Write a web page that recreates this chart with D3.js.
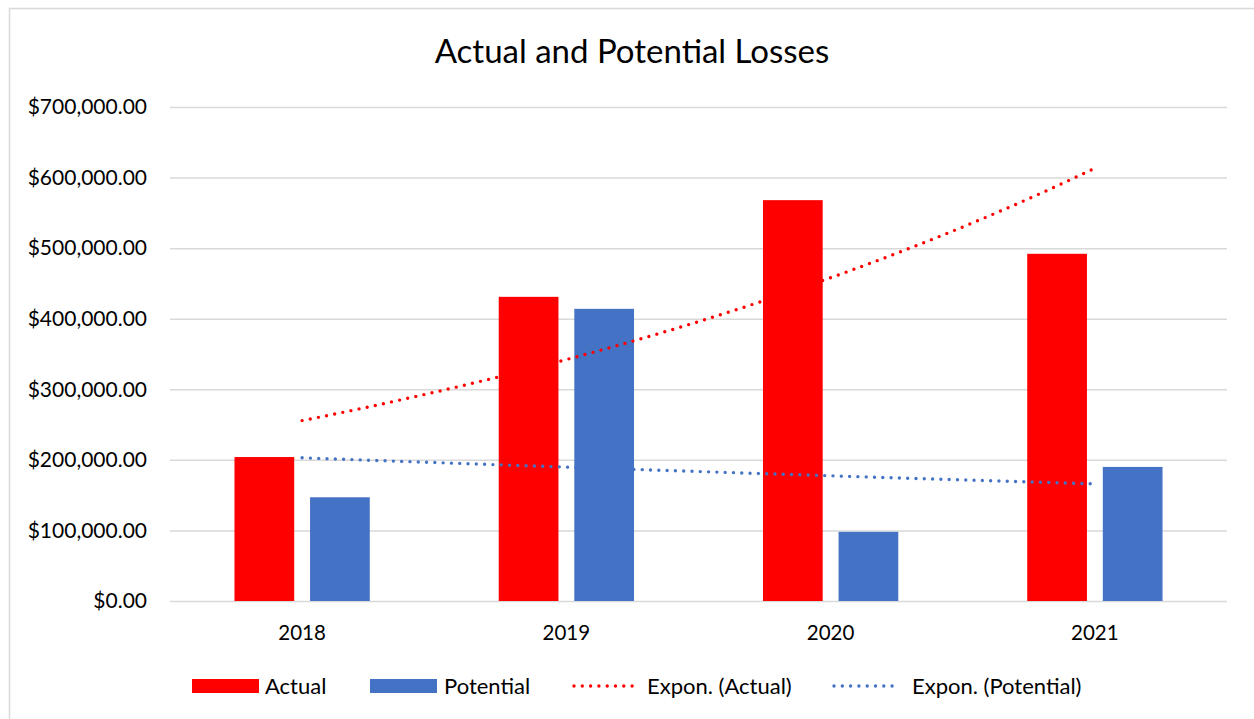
<!DOCTYPE html>
<html>
<head>
<meta charset="utf-8">
<script src="https://cdn.jsdelivr.net/npm/d3@7"></script>
<style>
  html, body { margin: 0; padding: 0; background: #fff; }
  svg { display: block; font-family: Lato, "Open Sans", sans-serif; }
</style>
</head>
<body>
<svg id="chart" width="1254" height="719"></svg>
<script>
// ---- data ----
const years = ["2018", "2019", "2020", "2021"];
const actual = [204000, 431000, 568000, 492000];
const potential = [147000, 414000, 98000, 190000];
const yTicks = [0, 100000, 200000, 300000, 400000, 500000, 600000, 700000];
const seriesNames = ["Actual", "Potential", "Expon. (Actual)", "Expon. (Potential)"];
const title = "Actual and Potential Losses";

// ---- layout ----
const W = 1254, H = 719;
const plot = { left: 170, right: 1227, top: 107, bottom: 601 };
const colActual = "#FF0000", colPotential = "#4472C4";

const svg = d3.select("#chart");

// frame
svg.append("rect").attr("x", 9.5).attr("y", 8.5).attr("width", W + 20).attr("height", H + 20)
  .attr("fill", "#fff").attr("stroke", "#d9d9d9").attr("stroke-width", 1.5);

// title
svg.append("text").attr("x", 632).attr("y", 63).attr("text-anchor", "middle")
  .attr("font-size", 33).attr("fill", "#000").text(title);

const x = d3.scaleBand().domain(years).range([plot.left, plot.right]).padding(0);
const y = d3.scaleLinear().domain([0, 700000]).range([plot.bottom, plot.top]);

const fmt = d => "$" + d3.format(",.2f")(d);

// gridlines + y tick labels
const yAxis = d3.axisLeft(y).tickValues(yTicks).tickFormat(fmt)
  .tickSize(-(plot.right - plot.left)).tickPadding(23);
const gy = svg.append("g").attr("transform", `translate(${plot.left},0)`).call(yAxis);
gy.select(".domain").remove();
gy.selectAll(".tick line").attr("stroke", "#d9d9d9").attr("stroke-width", 1.5);
gy.selectAll(".tick text").attr("font-size", 21).attr("fill", "#000").attr("font-family", "Lato");

// x axis labels
const xAxis = d3.axisBottom(x).tickSize(0).tickPadding(24);
const gx = svg.append("g").attr("transform", `translate(0,${plot.bottom})`).call(xAxis);
gx.select(".domain").remove();
gx.selectAll(".tick text").attr("font-size", 20.5).attr("fill", "#000").attr("font-family", "Lato");

// bars
const bw = x.bandwidth() * 0.226;
const gap = x.bandwidth() * 0.06;
const barG = svg.append("g");
barG.selectAll("rect.a").data(years).enter().append("rect")
  .attr("x", d => x(d) + x.bandwidth() / 2 - gap / 2 - bw)
  .attr("y", (d, i) => y(actual[i]))
  .attr("width", bw)
  .attr("height", (d, i) => y(0) - y(actual[i]))
  .attr("fill", colActual);
barG.selectAll("rect.p").data(years).enter().append("rect")
  .attr("x", d => x(d) + x.bandwidth() / 2 + gap / 2)
  .attr("y", (d, i) => y(potential[i]))
  .attr("width", bw)
  .attr("height", (d, i) => y(0) - y(potential[i]))
  .attr("fill", colPotential);

// exponential trendlines (least squares on ln(y))
function expFit(vals) {
  const xs = vals.map((v, i) => i + 1);
  const ls = vals.map(v => Math.log(v));
  const mx = d3.mean(xs), ml = d3.mean(ls);
  const b = d3.sum(xs.map((xi, i) => (xi - mx) * (ls[i] - ml))) / d3.sum(xs.map(xi => (xi - mx) ** 2));
  const a = ml - b * mx;
  return t => Math.exp(a + b * t);
}
const cx = t => x(years[0]) + x.bandwidth() / 2 + (t - 1) * x.step();
const line = d3.line().x(d => cx(d[0])).y(d => y(d[1]));
[[actual, colActual], [potential, colPotential]].forEach(([vals, col]) => {
  const f = expFit(vals);
  const pts = d3.range(0, 61).map(k => { const t = 1 + 3 * k / 60; return [t, f(t)]; });
  svg.append("path").attr("d", line(pts)).attr("fill", "none")
    .attr("stroke", col).attr("stroke-width", 3.4)
    .attr("stroke-linecap", "round").attr("stroke-dasharray", "0 8.3");
});

// legend
const lg = svg.append("g");
const legendItems = [
  { name: seriesNames[0], type: "rect", col: colActual, x: 192, tx: 265 },
  { name: seriesNames[1], type: "rect", col: colPotential, x: 370, tx: 444 },
  { name: seriesNames[2], type: "line", col: colActual, x: 574, tx: 647 },
  { name: seriesNames[3], type: "line", col: colPotential, x: 834, tx: 912 }
];
const ly = 686;
legendItems.forEach(it => {
  if (it.type === "rect") {
    lg.append("rect").attr("x", it.x).attr("y", ly - 7).attr("width", 67).attr("height", 14).attr("fill", it.col);
  } else {
    lg.append("line").attr("x1", it.x).attr("x2", it.x + 66).attr("y1", ly).attr("y2", ly)
      .attr("stroke", it.col).attr("stroke-width", 3.4).attr("stroke-linecap", "round").attr("stroke-dasharray", "0 8.3");
  }
  lg.append("text").attr("x", it.tx).attr("y", ly + 7.5).attr("font-size", 22).attr("fill", "#000").text(it.name);
});
</script>
</body>
</html>
